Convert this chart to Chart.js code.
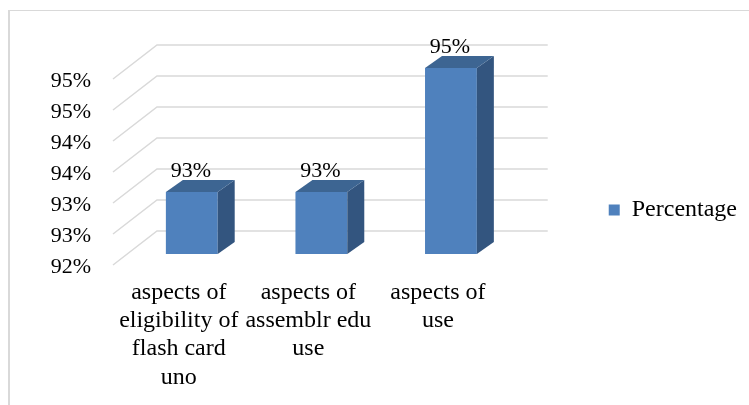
<!DOCTYPE html>
<html>
<head>
<meta charset="utf-8">
<script src="https://cdn.jsdelivr.net/npm/chart.js@4"></script>
<style>
  html, body { margin: 0; padding: 0; background: #fff; }
  canvas { display: block; }
</style>
</head>
<body>
<canvas id="chart" width="749" height="405"></canvas>
<script>
// values
const categories = [
  ['aspects of', 'eligibility of', 'flash card', 'uno'],
  ['aspects of', 'assemblr edu', 'use'],
  ['aspects of', 'use'],
];
const percentages = [93, 93, 95];
const seriesName  = 'Percentage';
const yMin = 92, yMax = 95, yStep = 0.5;

// fake 3D geometry (pixels)
const BAR_DX = 17, BAR_DY = 12;     // bar depth
const WALL_DX = 30, WALL_DY = 23;   // bar plane -> back wall
const FLOOR_DX = 14, FLOOR_DY = 11; // bar plane -> front edge

const FRONT = '#4f81bd';
const SIDE  = '#33557f';
const TOP   = '#3d6592';
const GRID  = '#d9d9d9';
const FONT  = 'Liberation Serif, Times New Roman, serif';

// ── FRAME + BACK WALL GRID ─────────────────────────────
const wallPlugin = {
  id: 'wall',
  afterLayout(chart) {
    // let the 4-line category label run below the axis box
    chart.scales.x.bottom = chart.height;
  },
  beforeDraw(chart) {
    const ctx = chart.ctx;
    ctx.save();
    ctx.fillStyle = GRID;
    ctx.fillRect(8, 10, 2, chart.height - 10);
    ctx.fillRect(8, 10, chart.width - 8, 1);
    ctx.restore();
  },
  beforeDatasetsDraw(chart) {
    const { ctx, chartArea } = chart;
    const y = chart.scales.y;
    ctx.save();
    ctx.strokeStyle = GRID;
    ctx.lineWidth = 1.5;
    y.ticks.forEach(t => {
      const py = y.getPixelForValue(t.value);
      ctx.beginPath();
      ctx.moveTo(chartArea.left - FLOOR_DX, py + FLOOR_DY);
      ctx.lineTo(chartArea.left + WALL_DX, py - WALL_DY);
      ctx.lineTo(chartArea.right + WALL_DX + 2, py - WALL_DY);
      ctx.stroke();
    });
    ctx.restore();
  },
};

// ── BAR SIDES + VALUE LABELS ───────────────────────────
const barPlugin = {
  id: 'bars3d',
  afterDatasetsDraw(chart) {
    const ctx = chart.ctx;
    const meta = chart.getDatasetMeta(0);
    ctx.save();
    meta.data.forEach((bar, i) => {
      const l = bar.x - bar.width / 2, r = bar.x + bar.width / 2;
      const t = bar.y, b = Math.min(bar.base, chart.chartArea.bottom);

      ctx.fillStyle = SIDE;
      ctx.beginPath();
      ctx.moveTo(r, t);
      ctx.lineTo(r + BAR_DX, t - BAR_DY);
      ctx.lineTo(r + BAR_DX, b - BAR_DY);
      ctx.lineTo(r, b);
      ctx.closePath();
      ctx.fill();

      ctx.fillStyle = TOP;
      ctx.beginPath();
      ctx.moveTo(l, t);
      ctx.lineTo(l + BAR_DX, t - BAR_DY);
      ctx.lineTo(r + BAR_DX, t - BAR_DY);
      ctx.lineTo(r, t);
      ctx.closePath();
      ctx.fill();

      ctx.fillStyle = '#000';
      ctx.font = `22px ${FONT}`;
      ctx.textAlign = 'center';
      ctx.textBaseline = 'middle';
      ctx.fillText(Math.round(percentages[i]) + '%', bar.x - 1, t - 21);
    });
    ctx.restore();
  },
};

new Chart(document.getElementById('chart'), {
  type: 'bar',
  data: {
    labels: categories,
    datasets: [{
      label: seriesName,
      data: percentages,
      backgroundColor: FRONT,
      borderWidth: 0,
      categoryPercentage: 1,
      barPercentage: 0.4,
    }],
  },
  options: {
    responsive: false,
    animation: false,
    layout: { padding: { left: 10, top: 68, right: 2, bottom: 53 } },
    scales: {
      x: {
        grid: { display: false, drawTicks: false },
        border: { display: false },
        ticks: {
          color: '#000',
          font: { family: FONT, size: 24, lineHeight: 1.17 },
          padding: 25,
          labelOffset: -13,
          maxRotation: 0,
          autoSkip: false,
        },
        afterFit: s => { s.height = 98; },
      },
      y: {
        min: yMin,
        max: yMax,
        grid: { display: false, drawTicks: false },
        border: { display: false },
        ticks: {
          stepSize: yStep,
          color: '#000',
          font: { family: FONT, size: 22 },
          padding: 36,
          labelOffset: 13,
          callback: v => Math.round(v) + '%',
        },
        afterFit: s => { s.width = 117; },
      },
      // empty gap between the plot and the legend
      spacer: {
        type: 'linear',
        position: 'right',
        display: false,
        afterFit: s => { s.width = 83; },
      },
    },
    plugins: {
      legend: {
        position: 'right',
        labels: {
          color: '#000',
          boxWidth: 11,
          boxHeight: 11,
          font: { family: FONT, size: 24 },
        },
      },
      tooltip: { enabled: false },
    },
  },
  plugins: [wallPlugin, barPlugin],
});
</script>
</body>
</html>
